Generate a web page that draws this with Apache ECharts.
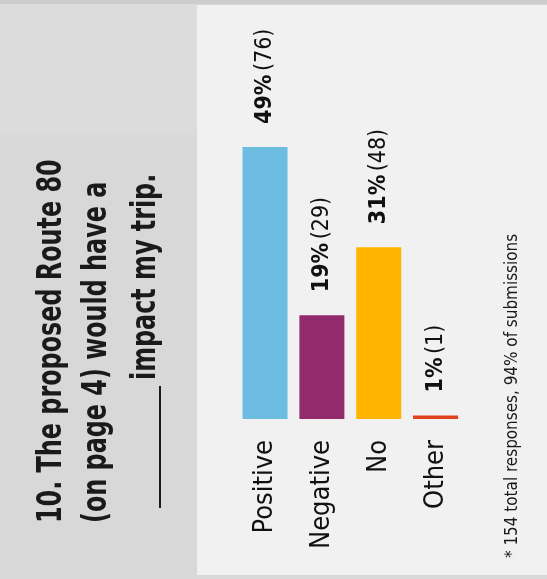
<!DOCTYPE html>
<html>
<head>
<meta charset="utf-8">
<style>
  html, body { margin: 0; padding: 0; background: #d8d8d8; }
  #chart { width: 547px; height: 579px; }
</style>
<script src="https://cdn.jsdelivr.net/npm/echarts@6/dist/echarts.min.js"></script>
</head>
<body>
<div id="chart"></div>
<script>
// Survey question 10: response counts per answer
const categories = ['Positive', 'Negative', 'No', 'Other'];
const counts = [76, 29, 48, 1];
const percents = [49, 19, 31, 1];
const barColors = ['#6cbde1', '#922a6c', '#ffb400', '#e2411d'];

const titleLines = ['10. The proposed Route 80', '(on page 4) would have a', 'impact my trip.'];
const footnote = '* 154 total responses, 94% of submissions';

const narrow = "'Liberation Sans Narrow', 'DejaVu Sans Condensed', 'Noto Sans', sans-serif";

const chart = echarts.init(document.getElementById('chart'), null, { renderer: 'canvas' });

const ROT = Math.PI / 2; // text reads bottom-to-top
const TITLE_FONT = "bold 34px " + narrow;

chart.setOption({
  backgroundColor: '#d8d8d8',
  animation: false,
  graphic: [
    // title panel (lighter top strip) and chart panel
    { type: 'rect', shape: { x: 0, y: 0, width: 197, height: 135 }, style: { fill: '#dcdcdc' }, z: -10 },
    { type: 'rect', shape: { x: 0, y: 0, width: 547, height: 4 }, style: { fill: '#cdcdcd' }, z: -9 },
    { type: 'rect', shape: { x: 197, y: 5, width: 350, height: 570 }, style: { fill: '#f1f1f1' }, z: -9 },
    // title, condensed along the reading direction
    { type: 'text', x: 52, y: 523, rotation: ROT, scaleX: 0.78,
      style: { text: titleLines[0], font: TITLE_FONT, fill: '#1a1a1a', textAlign: 'left', textVerticalAlign: 'middle' } },
    { type: 'text', x: 97, y: 523, rotation: ROT, scaleX: 0.78,
      style: { text: titleLines[1], font: TITLE_FONT, fill: '#1a1a1a', textAlign: 'left', textVerticalAlign: 'middle' } },
    { type: 'text', x: 146, y: 380, rotation: ROT, scaleX: 0.78,
      style: { text: titleLines[2], font: TITLE_FONT, fill: '#1a1a1a', textAlign: 'left', textVerticalAlign: 'middle' } },
    // blank to fill in
    { type: 'line', shape: { x1: 160, y1: 508, x2: 160, y2: 386 }, style: { stroke: '#1a1a1a', lineWidth: 2 } },
    // footnote
    { type: 'text', x: 512, y: 558, rotation: ROT, scaleX: 0.94,
      style: { text: footnote, font: "18px " + narrow, fill: '#1a1a1a', textAlign: 'left', textVerticalAlign: 'middle' } }
  ],
  grid: { left: 236.6, right: 83, top: 61, bottom: 160 },
  xAxis: {
    type: 'category',
    data: categories,
    axisLine: { show: false },
    axisTick: { show: false },
    axisLabel: {
      rotate: 90,
      margin: 21,
      fontSize: 27,
      fontFamily: narrow,
      color: '#111'
    }
  },
  yAxis: {
    type: 'value',
    min: 0,
    max: 100,
    show: false,
    splitLine: { show: false }
  },
  series: [{
    type: 'bar',
    barWidth: 45,
    data: counts.map((v, i) => ({ value: v, itemStyle: { color: barColors[i] } })),
    label: {
      show: true,
      position: 'top',
      distance: 23,
      rotate: 90,
      align: 'left',
      verticalAlign: 'middle',
      formatter: p => '{p|' + percents[p.dataIndex] + '%} {n|(' + p.value + ')}',
      rich: {
        p: { fontSize: 23, fontWeight: 'bold', fontFamily: narrow, color: '#111' },
        n: { fontSize: 23, fontFamily: narrow, color: '#111' }
      }
    }
  }]
});
</script>
</body>
</html>
